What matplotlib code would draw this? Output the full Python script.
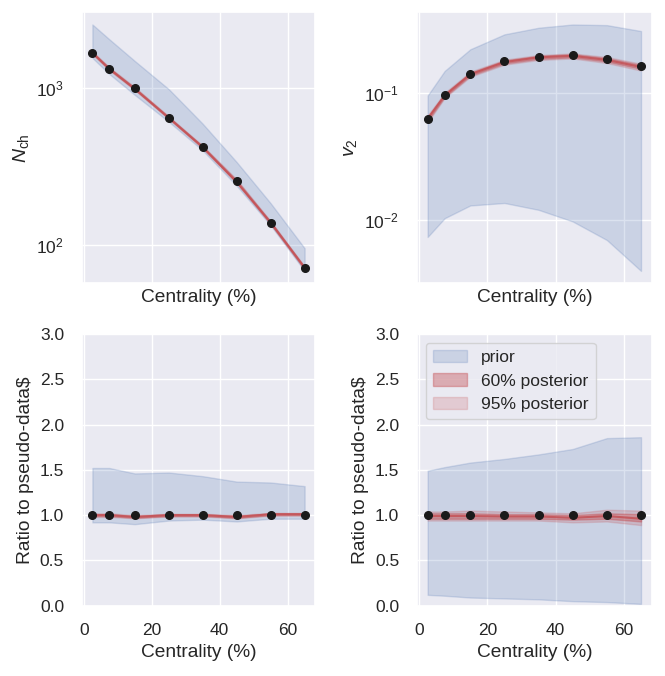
import numpy as np
import matplotlib
matplotlib.use("Agg")
import matplotlib.pyplot as plt
import seaborn as sns

sns.set_theme(style="darkgrid")
plt.rcParams["font.family"] = ["Liberation Sans", "DejaVu Sans"]
plt.rcParams["mathtext.fontset"] = "custom"
plt.rcParams["mathtext.rm"] = "Liberation Sans"
plt.rcParams["mathtext.it"] = "Liberation Sans:italic"
plt.rcParams["xtick.major.pad"] = 6.8
plt.rcParams["ytick.major.pad"] = 6.8

# centrality bin midpoints (%)
cent = [2.5, 7.5, 15, 25, 35, 45, 55, 65]

# charged multiplicity
nch_data = [1683, 1331, 1000, 646, 420, 255, 138, 70.8]
nch_prior_lo = [1560, 1230, 905, 610, 400, 238, 133, 68]
nch_prior_hi = [2550, 2050, 1490, 985, 592, 337, 184, 95]
nch_p60_lo = [1660, 1310, 980, 640, 415, 250, 136, 70]
nch_p60_hi = [1700, 1345, 1005, 655, 425, 258, 140, 72]
nch_p95_lo = [1645, 1300, 970, 635, 411, 247, 135, 69.3]
nch_p95_hi = [1715, 1360, 1015, 660, 429, 261, 141.5, 72.8]
nch_mean = [1680, 1328, 988, 646, 420, 251, 138.5, 71.3]

# elliptic flow
v2_data = [0.063, 0.097, 0.142, 0.178, 0.194, 0.200, 0.185, 0.164]
v2_prior_lo = [0.0074, 0.0104, 0.0131, 0.0137, 0.0121, 0.0098, 0.0070, 0.0040]
v2_prior_hi = [0.096, 0.150, 0.222, 0.291, 0.328, 0.348, 0.344, 0.309]
v2_p60_lo = [0.061, 0.094, 0.138, 0.172, 0.187, 0.192, 0.178, 0.156]
v2_p60_hi = [0.065, 0.099, 0.145, 0.181, 0.197, 0.203, 0.189, 0.167]
v2_p95_lo = [0.059, 0.092, 0.135, 0.168, 0.183, 0.188, 0.173, 0.151]
v2_p95_hi = [0.067, 0.101, 0.148, 0.184, 0.200, 0.206, 0.193, 0.171]
v2_mean = [0.063, 0.096, 0.141, 0.176, 0.192, 0.197, 0.183, 0.161]

# ratios to pseudo-data
r_nch_prior_lo = [0.92, 0.92, 0.90, 0.94, 0.95, 0.93, 0.96, 0.96]
r_nch_prior_hi = [1.52, 1.52, 1.46, 1.47, 1.43, 1.37, 1.36, 1.32]
r_nch_p60_lo = [0.99, 0.99, 0.97, 0.99, 0.99, 0.97, 1.00, 1.00]
r_nch_p60_hi = [1.01, 1.01, 0.99, 1.01, 1.01, 0.99, 1.02, 1.02]
r_nch_p95_lo = [0.98, 0.98, 0.965, 0.985, 0.985, 0.965, 0.995, 0.995]
r_nch_p95_hi = [1.02, 1.02, 1.0, 1.015, 1.015, 1.0, 1.025, 1.025]
r_nch_mean = [1.0, 1.0, 0.98, 1.0, 1.0, 0.98, 1.01, 1.01]

r_v2_prior_lo = [0.12, 0.11, 0.09, 0.08, 0.07, 0.05, 0.04, 0.02]
r_v2_prior_hi = [1.49, 1.53, 1.58, 1.62, 1.67, 1.73, 1.85, 1.86]
r_v2_p60_lo = [0.96, 0.96, 0.96, 0.96, 0.96, 0.95, 0.96, 0.93]
r_v2_p60_hi = [1.02, 1.02, 1.02, 1.01, 1.01, 1.00, 1.02, 1.01]
r_v2_p95_lo = [0.94, 0.94, 0.94, 0.94, 0.94, 0.92, 0.93, 0.89]
r_v2_p95_hi = [1.04, 1.04, 1.05, 1.04, 1.03, 1.02, 1.06, 1.05]
r_v2_mean = [0.99, 0.99, 0.99, 0.985, 0.985, 0.97, 0.99, 0.96]

BLUE = sns.color_palette("deep")[0]
RED = sns.color_palette("deep")[3]


def draw_panel(ax, plo, phi, lo95, hi95, lo60, hi60, mean, data):
    ax.fill_between(cent, plo, phi, color=BLUE, alpha=0.2, label="prior")
    ax.fill_between(cent, lo60, hi60, color=RED, alpha=0.4, label="60% posterior")
    ax.fill_between(cent, lo95, hi95, color=RED, alpha=0.2, label="95% posterior")
    ax.plot(cent, mean, color=RED, lw=1.5, alpha=0.8)
    ax.plot(cent, data, "o", color="k", ms=5.5)


fig = plt.figure(figsize=(6.65, 6.76), dpi=100)
ax1 = fig.add_axes([0.123, 0.581, 0.351, 0.401])
ax2 = fig.add_axes([0.627, 0.581, 0.353, 0.401], sharex=ax1)
ax3 = fig.add_axes([0.123, 0.104, 0.351, 0.402], sharex=ax1)
ax4 = fig.add_axes([0.627, 0.104, 0.353, 0.402], sharex=ax1)

draw_panel(ax1, nch_prior_lo, nch_prior_hi, nch_p95_lo, nch_p95_hi,
           nch_p60_lo, nch_p60_hi, nch_mean, nch_data)
draw_panel(ax2, v2_prior_lo, v2_prior_hi, v2_p95_lo, v2_p95_hi,
           v2_p60_lo, v2_p60_hi, v2_mean, v2_data)
draw_panel(ax3, r_nch_prior_lo, r_nch_prior_hi, r_nch_p95_lo, r_nch_p95_hi,
           r_nch_p60_lo, r_nch_p60_hi, r_nch_mean, np.ones(len(cent)))
draw_panel(ax4, r_v2_prior_lo, r_v2_prior_hi, r_v2_p95_lo, r_v2_p95_hi,
           r_v2_p60_lo, r_v2_p60_hi, r_v2_mean, np.ones(len(cent)))

for ax in (ax1, ax2):
    ax.set_yscale("log")
    ax.tick_params(labelbottom=False)
ax1.set_ylabel(r"$N_\mathrm{ch}$", fontsize=14)
ax2.set_ylabel(r"$v_2$", fontsize=14)

for ax in (ax3, ax4):
    ax.set_ylim(0, 3)
    ax.set_ylabel("Ratio to pseudo-data$", fontsize=13.75)

for ax in (ax1, ax2, ax3, ax4):
    ax.set_xlabel("Centrality (%)", fontsize=13.75)
    ax.tick_params(labelsize=12.5)

ax4.legend(loc="upper left", fontsize=12.5)

fig.savefig("out.png", dpi=100)
